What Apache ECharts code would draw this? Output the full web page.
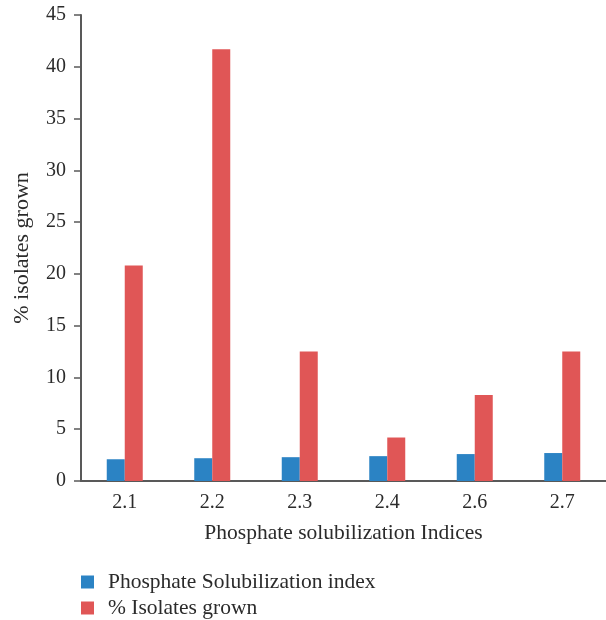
<!DOCTYPE html>
<html>
<head>
<meta charset="utf-8">
<script src="https://cdn.jsdelivr.net/npm/echarts@6/dist/echarts.min.js"></script>
<style>
  html, body { margin: 0; padding: 0; background: #fff; }
  #chart { width: 606px; height: 620px; }
</style>
</head>
<body>
<div id="chart"></div>
<script>
// Phosphate solubilization indices and share of isolates at each index
const categories = ['2.1', '2.2', '2.3', '2.4', '2.6', '2.7'];
const solubilizationIndex = [2.1, 2.2, 2.3, 2.4, 2.6, 2.7];
const isolatesGrown = [20.8, 41.7, 12.5, 4.2, 8.3, 12.5];
const yTicks = { min: 0, max: 45, interval: 5 };

const FONT = '"Liberation Serif", "DejaVu Serif", serif';
const TEXT = '#2b2b2b';
const AXIS = '#595959';

const chart = echarts.init(document.getElementById('chart'), null, { renderer: 'canvas' });
chart.setOption({
  animation: false,
  textStyle: { fontFamily: FONT, color: TEXT },
  grid: { left: 81, right: 0, top: 15, bottom: 139, containLabel: false, outerBoundsMode: 'none' },
  legend: {
    orient: 'vertical',
    left: 76,
    top: 565,
    height: 60,
    itemWidth: 13,
    itemHeight: 13,
    itemGap: 2,
    icon: 'rect',
    textStyle: { fontFamily: FONT, fontSize: 21.5, lineHeight: 24, color: TEXT, padding: [0, 0, 0, 9] },
    data: ['Phosphate Solubilization index', '% Isolates grown']
  },
  xAxis: {
    type: 'category',
    data: categories,
    name: 'Phosphate solubilization Indices',
    nameLocation: 'middle',
    nameGap: 41,
    nameTextStyle: { fontFamily: FONT, fontSize: 21.5, color: TEXT },
    axisLine: { lineStyle: { color: AXIS, width: 2 } },
    axisTick: { show: false },
    axisLabel: { fontFamily: FONT, fontSize: 20, color: TEXT, margin: 12 }
  },
  yAxis: {
    type: 'value',
    min: yTicks.min,
    max: yTicks.max,
    interval: yTicks.interval,
    name: '% isolates grown',
    nameLocation: 'middle',
    nameGap: 48,
    nameTextStyle: { fontFamily: FONT, fontSize: 22, color: TEXT },
    axisLine: { show: true, lineStyle: { color: AXIS, width: 2 } },
    axisTick: { show: true, length: 7, lineStyle: { color: AXIS, width: 1.5 } },
    splitLine: { show: false },
    axisLabel: { fontFamily: FONT, fontSize: 20, color: TEXT, margin: 15 }
  },
  series: [
    {
      name: 'Phosphate Solubilization index',
      type: 'bar',
      data: solubilizationIndex,
      barWidth: 18,
      barGap: '0%',
      itemStyle: { color: '#2B83C4' }
    },
    {
      name: '% Isolates grown',
      type: 'bar',
      data: isolatesGrown,
      barWidth: 18,
      barGap: '0%',
      itemStyle: { color: '#E05656' }
    }
  ]
});
</script>
</body>
</html>
